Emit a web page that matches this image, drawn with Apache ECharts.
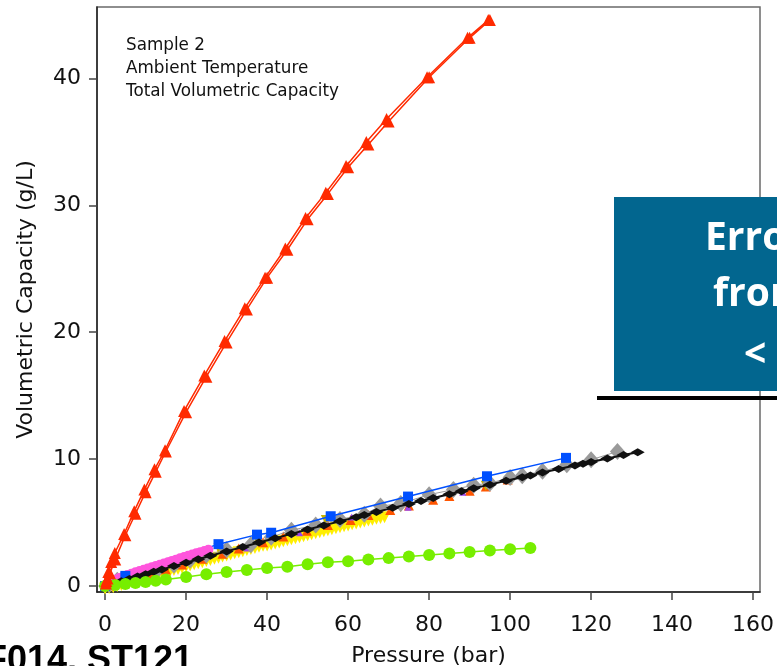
<!DOCTYPE html>
<html>
<head>
<meta charset="utf-8">
<script src="https://cdn.jsdelivr.net/npm/echarts@6/dist/echarts.min.js"></script>
<style>
  html, body { margin: 0; padding: 0; background: #fff; }
  #chart { width: 777px; height: 666px; }
</style>
</head>
<body>
<div id="chart"></div>
<script>
// Tick labels
const xTicks = [0, 20, 40, 60, 80, 100, 120, 140, 160];
const yTicks = [0, 10, 20, 30, 40];

// Red triangles, uptake branch
const redUpP = [0.2, 0.6, 1.2, 2.5, 5, 7.5, 10, 12.5, 15, 20, 25, 30, 35, 40, 45, 50, 55, 60, 65, 70, 80, 90, 95];
const redUpV = [0.2, 0.6, 1.0, 2.1, 4.0, 5.7, 7.4, 9.0, 10.6, 13.7, 16.5, 19.2, 21.8, 24.3, 26.5, 28.9, 30.9, 33.0, 34.8, 36.6, 40.1, 43.2, 44.6];
// Red triangles, release branch
const redDownP = [94.6, 89.5, 79.5, 69.5, 64.5, 59.5, 54.5, 49.5, 44.5, 39.5, 34.5, 29.5, 24.5, 19.5, 14.8, 12.2, 9.7, 7.2, 4.7, 2.4, 1.5, 0.8, 0.3];
const redDownV = [44.6, 43.2, 40.1, 36.8, 35.0, 33.1, 31.0, 29.0, 26.6, 24.3, 21.9, 19.3, 16.6, 13.8, 10.7, 9.2, 7.6, 5.9, 4.1, 2.6, 1.9, 1.1, 0.4];

// Green circles
const greenP = [0, 2.5, 5, 7.5, 10, 12.5, 15, 20, 25, 30, 35, 40, 45, 50, 55, 60, 65, 70, 75, 80, 85, 90, 95, 100, 105];
const greenV = [0.0, 0.08, 0.16, 0.24, 0.32, 0.42, 0.52, 0.72, 0.93, 1.1, 1.27, 1.42, 1.52, 1.72, 1.88, 1.95, 2.1, 2.2, 2.32, 2.45, 2.57, 2.68, 2.8, 2.9, 3.0];

// Blue squares
const blueP = [0, 5, 28, 37.5, 41, 55.7, 74.8, 94.3, 113.8];
const blueV = [0, 0.8, 3.3, 4.05, 4.2, 5.5, 7.05, 8.65, 10.1];

// Black diamonds
const blackP = [0, 2, 4, 6, 8, 10, 12, 14, 17, 20, 23, 26, 30, 34, 38, 42, 46, 50, 54, 58, 62, 64, 67, 71, 75, 78, 81, 85, 88, 91, 95, 99, 103, 105, 108, 112, 116, 118, 120, 124, 128, 131.5];
const blackV = [0, 0.19, 0.38, 0.56, 0.75, 0.93, 1.12, 1.30, 1.57, 1.84, 2.11, 2.38, 2.73, 3.08, 3.43, 3.77, 4.11, 4.45, 4.78, 5.11, 5.43, 5.6, 5.84, 6.16, 6.47, 6.71, 6.94, 7.24, 7.47, 7.7, 7.99, 8.29, 8.58, 8.72, 8.94, 9.22, 9.5, 9.64, 9.78, 10.05, 10.32, 10.55];

// Gray diamonds
const grayP = [1, 3, 6, 9, 13, 17, 21, 25, 30, 36, 41, 46, 52, 58, 64, 68, 73, 80, 86, 91, 95, 100, 103, 108, 114, 120, 126.5];
const grayV = [0.15, 0.45, 0.65, 0.9, 1.3, 1.65, 2.05, 2.45, 2.85, 3.25, 3.85, 4.4, 4.8, 5.25, 5.65, 6.3, 6.5, 7.2, 7.6, 7.95, 8.1, 8.55, 8.7, 9.05, 9.55, 9.95, 10.6];

// Yellow down-triangles (dense run up to ~70 bar)
const yellowP = [0, 1, 2, 3, 4, 5, 6, 7, 8, 9, 10, 11, 12, 13, 14, 15, 16, 17, 18, 19, 20, 21, 22, 23, 24, 25, 26, 27, 28, 29, 30, 31, 32, 33, 34, 35, 36, 37, 38, 39, 40, 41, 42, 43, 44, 45, 46, 47, 48, 49, 50, 51, 52, 53, 54, 55, 56, 57, 58, 59, 60, 61, 62, 63, 64, 65, 66, 67, 68, 69];
const yellowV = [-0.2, -0.15, -0.1, 0.0, 0.08, 0.17, 0.26, 0.35, 0.44, 0.53, 0.62, 0.72, 0.81, 0.9, 0.99, 1.08, 1.17, 1.26, 1.35, 1.44, 1.53, 1.62, 1.71, 1.8, 1.88, 1.97, 2.06, 2.15, 2.23, 2.32, 2.41, 2.49, 2.58, 2.66, 2.75, 2.83, 2.92, 3.0, 3.09, 3.17, 3.2, 3.28, 3.36, 3.44, 3.52, 3.6, 3.68, 3.76, 3.84, 3.92, 4.0, 4.08, 4.16, 4.24, 4.32, 4.4, 4.47, 4.55, 4.63, 4.71, 4.78, 4.86, 4.93, 5.01, 5.08, 5.16, 5.23, 5.3, 5.37, 5.43];

// Pink circles
const pinkP = [0.5, 1.5, 2.5, 3.5, 4.5, 5.5, 6.5, 7.5, 8.5, 9.5, 10.5, 11.5, 12.5, 13.5, 14.5, 15.5, 16.5, 17.5, 18.5, 19.5, 20.5, 21.5, 22.5, 23.5, 24.5, 25.5];
const pinkV = [0.2, 0.36, 0.5, 0.63, 0.75, 0.86, 0.97, 1.08, 1.18, 1.28, 1.38, 1.48, 1.58, 1.68, 1.78, 1.88, 1.98, 2.08, 2.18, 2.28, 2.38, 2.48, 2.58, 2.67, 2.76, 2.85];

// Orange triangles
const orangeP = [1, 4, 7, 11, 15, 19, 24, 29, 33, 39, 44, 49.8, 55, 60.6, 65, 70.4, 75, 81, 85, 90, 94, 99.4];
const orangeV = [0.05, 0.3, 0.6, 0.95, 1.3, 1.7, 2.15, 2.55, 2.95, 3.45, 3.9, 4.35, 4.8, 5.2, 5.6, 6.0, 6.35, 6.8, 7.1, 7.5, 7.85, 8.4];

// Purple triangles
const purpleP = [35, 48, 60.9, 74.8, 88.3];
const purpleV = [3.0, 4.2, 5.45, 6.2, 7.4];

// Olive down-triangles
const oliveP = [28, 37.5, 54.5, 73, 94];
const oliveV = [3.0, 3.7, 5.2, 6.2, 7.9];

const zip = (p, v) => p.map((x, i) => [x, v[i]]);

function markSeries(name, p, v, color, symbol, size, extra) {
  return Object.assign({
    name: name,
    type: 'line',
    data: zip(p, v),
    symbol: symbol,
    symbolSize: size,
    showAllSymbol: true,
    itemStyle: { color: color },
    lineStyle: { width: 0, opacity: 0 },
    z: 2
  }, extra || {});
}

const series = [
  markSeries('yellow', yellowP, yellowV, '#ffee00', 'triangle', 12, { symbolRotate: 180 }),
  markSeries('orange', orangeP, orangeV, '#ff5500', 'triangle', 10),
  markSeries('purple', purpleP, purpleV, '#9944ee', 'triangle', 7),
  markSeries('olive', oliveP, oliveV, '#c8b400', 'triangle', 10, { symbolRotate: 180 }),
  markSeries('gray', grayP, grayV, '#9a9a9a', 'diamond', [15, 17],
    { lineStyle: { width: 1, color: '#9a9a9a' }, z: 3 }),
  markSeries('pink', pinkP, pinkV, '#ff55dd', 'circle', 10, { z: 4 }),
  markSeries('blue', blueP, blueV, '#0050ff', 'rect', 10,
    { lineStyle: { width: 1.5, color: '#0050ff' }, z: 4 }),
  markSeries('black', blackP, blackV, '#111111', 'diamond', [14, 8],
    { lineStyle: { width: 2, color: '#111111' }, z: 5 }),
  markSeries('green', greenP, greenV, '#77ee00', 'circle', 12,
    { lineStyle: { width: 1.5, color: '#77ee00' }, z: 6 }),
  markSeries('red up', redUpP, redUpV, '#ff2a00', 'triangle', 12,
    { lineStyle: { width: 1.5, color: '#ff2a00' }, z: 7 }),
  markSeries('red down', redDownP, redDownV, '#ff2a00', 'triangle', 12,
    { lineStyle: { width: 1.5, color: '#ff2a00' }, z: 7 })
];

const axisFont = 'DejaVu Sans';

const chart = echarts.init(document.getElementById('chart'), null, { renderer: 'canvas' });
chart.setOption({
  animation: false,
  backgroundColor: '#ffffff',
  grid: {
    left: 97, right: 17, top: 7, bottom: 74,
    containLabel: false,
    outerBoundsMode: 'none',
    show: true, borderColor: '#6a6a6a', borderWidth: 1.5, backgroundColor: 'transparent'
  },
  xAxis: {
    type: 'value',
    min: -2, max: 161.7,
    name: 'Pressure (bar)',
    nameLocation: 'middle',
    nameGap: 53,
    nameTextStyle: { fontFamily: axisFont, fontSize: 22, color: '#111' },
    axisLine: { show: true, onZero: false, lineStyle: { color: '#222', width: 1.5 } },
    axisTick: { show: true, inside: false, length: 8, customValues: xTicks, lineStyle: { color: '#444', width: 1.5 } },
    axisLabel: { customValues: xTicks, fontFamily: axisFont, fontSize: 22, color: '#111', margin: 22 },
    splitLine: { show: false }
  },
  yAxis: {
    type: 'value',
    min: -0.47, max: 45.63,
    name: 'Volumetric Capacity (g/L)',
    nameLocation: 'middle',
    nameGap: 60,
    nameTextStyle: { fontFamily: axisFont, fontSize: 22, color: '#111' },
    axisLine: { show: true, onZero: false, lineStyle: { color: '#222', width: 1.5 } },
    axisTick: { show: true, inside: false, length: 8, customValues: yTicks, lineStyle: { color: '#444', width: 1.5 } },
    axisLabel: { customValues: yTicks, fontFamily: axisFont, fontSize: 22, color: '#111', margin: 16 },
    splitLine: { show: false }
  },
  series: series,
  graphic: [
    {
      type: 'text', z: 50,
      style: {
        x: 126, y: 34,
        text: 'Sample 2\nAmbient Temperature\nTotal Volumetric Capacity',
        font: '16.8px "DejaVu Sans"',
        lineHeight: 23,
        fill: '#111',
        verticalAlign: 'top'
      }
    },
    {
      type: 'rect', z: 100,
      shape: { x: 614, y: 197, width: 170, height: 194 },
      style: { fill: '#02668f' }
    },
    {
      type: 'text', z: 101,
      style: { x: 705, y: 219, text: 'Error', font: 'bold 39px "Open Sans"', fill: '#ffffff', verticalAlign: 'top' }
    },
    {
      type: 'text', z: 101,
      style: { x: 713, y: 275, text: 'from', font: 'bold 39px "Open Sans"', fill: '#ffffff', verticalAlign: 'top' }
    },
    {
      type: 'text', z: 101,
      style: { x: 744, y: 336, text: '<', font: 'bold 39px "Open Sans"', fill: '#ffffff', verticalAlign: 'top' }
    },
    {
      type: 'rect', z: 100,
      shape: { x: 597, y: 396, width: 190, height: 4 },
      style: { fill: '#000000' }
    },
    {
      type: 'text', z: 100,
      style: { x: -15, y: 661, text: 'F014, ST121', font: 'bold 36px "Liberation Sans"', fill: '#000000', verticalAlign: 'middle' }
    }
  ]
});
</script>
</body>
</html>
